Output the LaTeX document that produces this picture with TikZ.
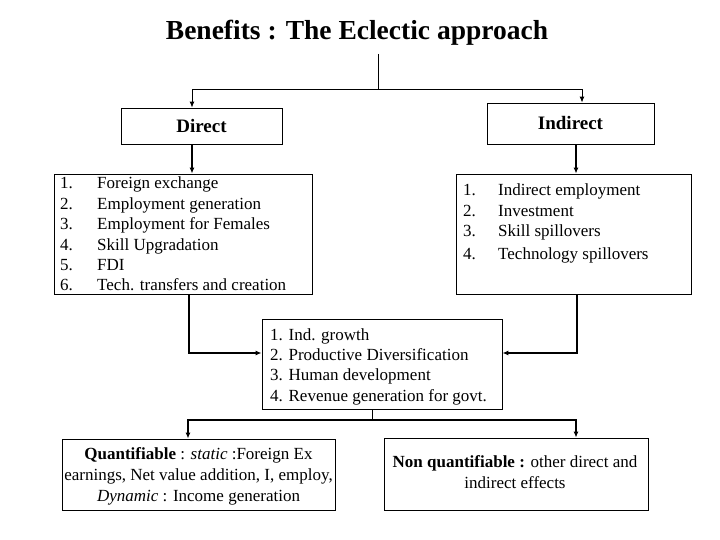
\documentclass[tikz,border=0pt]{standalone}
\usepackage{fontspec}
\setmainfont{Liberation Serif}
\usetikzlibrary{arrows.meta}
\newcommand{\lfs}{\fontsize{17}{20.4}\selectfont}
\begin{document}
\begin{tikzpicture}[x=1pt,y=-1pt,
  box/.style={draw, line width=0.8pt, inner sep=0pt},
  txt/.style={inner sep=0pt, font=\lfs},
  arr/.style={line width=1.5pt, -{Latex[length=6pt,width=5pt]}},
  thinarr/.style={line width=1pt, -{Latex[length=6pt,width=5pt]}},
  plain/.style={line width=0.8pt}]
\useasboundingbox (0,0) rectangle (720,540);

% title
\node[inner sep=0pt, anchor=base, font=\fontsize{27.5}{33}\selectfont\bfseries] (title) at (357,40) {Benefits : The Eclectic approach};
\coordinate (t1) at (378,54);
\coordinate (split) at (378,90);

% top boxes
\node[box, minimum width=161pt, minimum height=36pt, font=\fontsize{19}{22}\selectfont\bfseries] (direct) at (201.5,126) {Direct};
\node[box, minimum width=167pt, minimum height=41pt, font=\fontsize{19}{22}\selectfont\bfseries] (indirect) at (570.5,123.5) {Indirect};

% list boxes
\node[box, minimum width=258pt, minimum height=120pt] (dlist) at (183,234) {};
\node[txt, anchor=base west] (dtext) at (60,189) {\begin{tabular}[t]{@{}p{37pt}@{}l@{}}
1. & Foreign exchange\\
2. & Employment generation\\
3. & Employment for Females\\
4. & Skill Upgradation\\
5. & FDI\\
6. & Tech. transfers and creation
\end{tabular}};

\node[box, minimum width=235pt, minimum height=120pt] (ilist) at (573.5,234) {};
\node[txt, anchor=base west] (itext) at (463,196) {\begin{tabular}[t]{@{}p{35pt}@{}l@{}}
1. & Indirect employment\\
2. & Investment\\
3. & Skill spillovers\\[2.6pt]
4. & Technology spillovers
\end{tabular}};

% centre box
\node[box, minimum width=240pt, minimum height=90pt] (centre) at (382,364) {};
\node[txt, anchor=base west] (ctext) at (270,340) {\begin{tabular}[t]{@{}l@{}}
1. Ind. growth\\
2. Productive Diversification\\
3. Human development\\
4. Revenue generation for govt.
\end{tabular}};

% bottom boxes
\node[box, minimum width=273pt, minimum height=71pt] (quant) at (198.5,474.5) {};
\node[txt, anchor=base, font=\fontsize{17}{21}\selectfont] (qtext) at (198.5,459) {\begin{tabular}[t]{@{}c@{}}
\textbf{Quantifiable} : \textit{static} :Foreign Ex\\
earnings, Net value addition, I, employ,\\
\textit{Dynamic} : Income generation
\end{tabular}};

\node[box, minimum width=264pt, minimum height=72pt] (nonq) at (516,474) {};
\node[txt, anchor=base, font=\fontsize{17}{21}\selectfont] (ntext) at (515,467) {\begin{tabular}[t]{@{}c@{}}
\textbf{Non quantifiable :} other direct and\\
indirect effects
\end{tabular}};

% connectors
\draw[plain] (t1) -- (split);
\draw[thinarr] (split) -| ([xshift=-9.5pt]direct.north);
\draw[thinarr] (split) -| ([xshift=11.5pt]indirect.north);
\draw[arr] ([xshift=-9.5pt]direct.south) -- ([xshift=-9.5pt]direct.south |- dlist.north);
\draw[arr] ([xshift=5.5pt]indirect.south) -- ([xshift=5.5pt]indirect.south |- ilist.north);
\draw[arr] ([xshift=6pt]dlist.south) |- ([yshift=11pt]centre.west);
\draw[arr] ([xshift=3.5pt]ilist.south) |- ([yshift=11pt]centre.east);
\coordinate (b) at (372,420);
\draw[plain] ([xshift=-10pt]centre.south) -- (b);
\draw[arr] (b) -| ([xshift=-10.5pt]quant.north);
\draw[arr] (b) -| ([xshift=60pt]nonq.north);
\end{tikzpicture}
\end{document}
